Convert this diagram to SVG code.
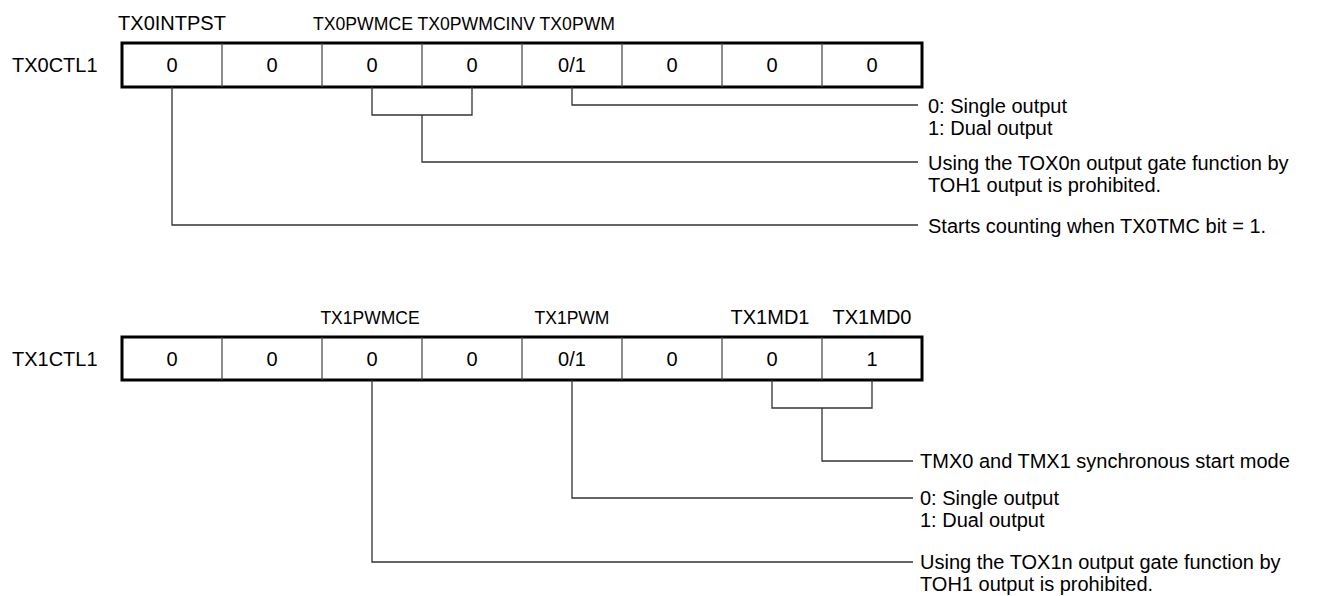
<svg xmlns="http://www.w3.org/2000/svg" width="1322" height="596" viewBox="0 0 1322 596">
<style>
text{font-family:"Liberation Sans",Arial,sans-serif;fill:#000;}
.t{font-size:20px;}
.s{font-size:17.5px;}
.c{font-size:20px;text-anchor:middle;}
.box{fill:#fff;stroke:#000;stroke-width:3;}
.div{stroke:#444;stroke-width:1.2;fill:none;}
.ln{stroke:#333;stroke-width:1.3;fill:none;}
</style>
<rect width="1322" height="596" fill="#fff"/>
<g id="reg0">
<text class="t" x="12" y="72">TX0CTL1</text>
<text class="c" x="172" y="30">TX0INTPST</text>
<text class="s" x="313" y="30" textLength="302" lengthAdjust="spacingAndGlyphs">TX0PWMCE TX0PWMCINV TX0PWM</text>
<rect class="box" x="122" y="43" width="800" height="44"/>
<path class="div" d="M222 43V87M322 43V87M422 43V87M522 43V87M622 43V87M722 43V87M822 43V87"/>
<text class="c" x="172" y="72">0</text>
<text class="c" x="272" y="72">0</text>
<text class="c" x="372" y="72">0</text>
<text class="c" x="472" y="72">0</text>
<text class="c" x="572" y="72">0/1</text>
<text class="c" x="672" y="72">0</text>
<text class="c" x="772" y="72">0</text>
<text class="c" x="872" y="72">0</text>
</g>
<g id="reg1">
<text class="t" x="12" y="366">TX1CTL1</text>
<text class="s" x="370" y="324" text-anchor="middle">TX1PWMCE</text>
<text class="s" x="572" y="324" text-anchor="middle">TX1PWM</text>
<text class="c" x="770" y="324">TX1MD1</text>
<text class="c" x="872" y="324">TX1MD0</text>
<rect class="box" x="122" y="337" width="800" height="43"/>
<path class="div" d="M222 337V380M322 337V380M422 337V380M522 337V380M622 337V380M722 337V380M822 337V380"/>
<text class="c" x="172" y="366">0</text>
<text class="c" x="272" y="366">0</text>
<text class="c" x="372" y="366">0</text>
<text class="c" x="472" y="366">0</text>
<text class="c" x="572" y="366">0/1</text>
<text class="c" x="672" y="366">0</text>
<text class="c" x="772" y="366">0</text>
<text class="c" x="872" y="366">1</text>
</g>
<g id="desc0">
<text class="t" x="928" y="113">0: Single output</text>
<text class="t" x="928" y="135">1: Dual output</text>
<text class="t" x="928" y="170">Using the TOX0n output gate function by</text>
<text class="t" x="928" y="192">TOH1 output is prohibited.</text>
<text class="t" x="928" y="233">Starts counting when TX0TMC bit = 1.</text>
</g>
<g id="desc1">
<text class="t" x="920" y="468">TMX0 and TMX1 synchronous start mode</text>
<text class="t" x="920" y="505">0: Single output</text>
<text class="t" x="920" y="527">1: Dual output</text>
<text class="t" x="920" y="569">Using the TOX1n output gate function by</text>
<text class="t" x="920" y="591">TOH1 output is prohibited.</text>
</g>
<g id="connectors">
<path class="ln" d="M572 87V105H918"/>
<path class="ln" d="M372 87V115H472V87M422 115V162H918"/>
<path class="ln" d="M172 87V225H918"/>
<path class="ln" d="M772 380V408H872V380M822 408V461H913"/>
<path class="ln" d="M572 380V498H913"/>
<path class="ln" d="M372 380V562H913"/>
</g>
</svg>
